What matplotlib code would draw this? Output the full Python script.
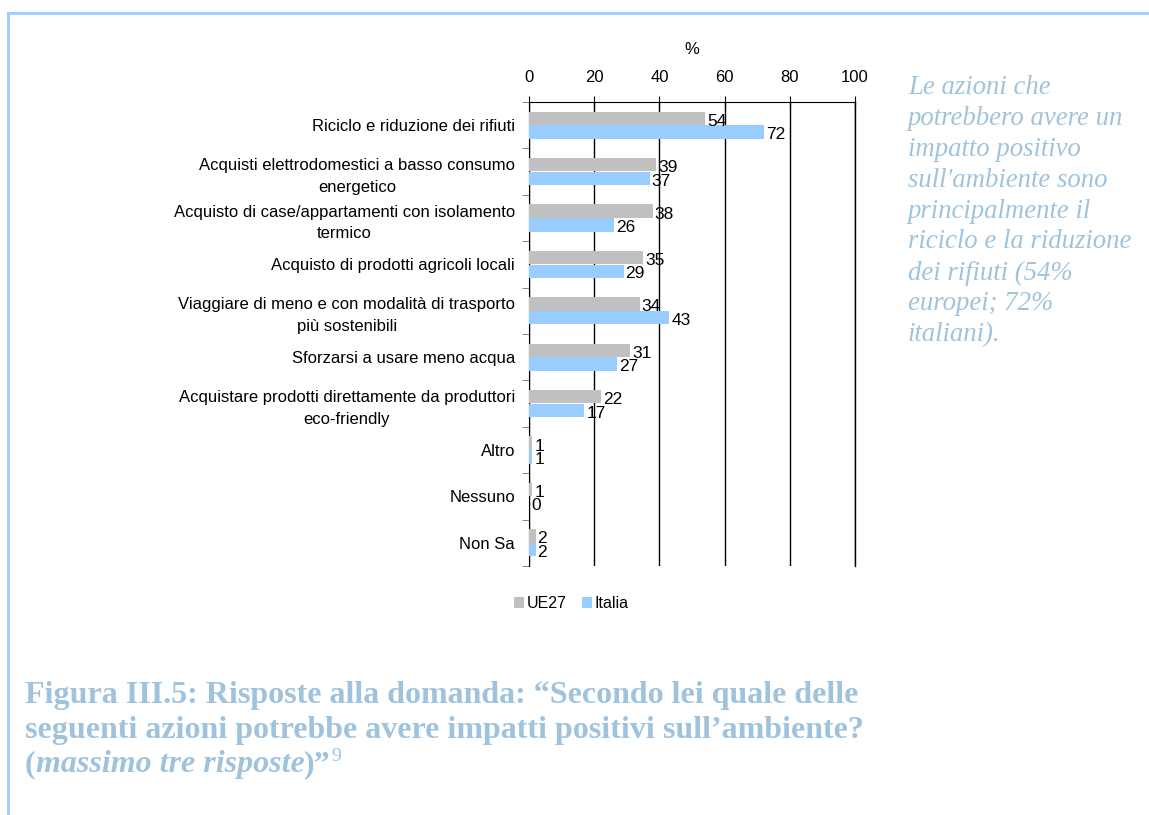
import matplotlib.pyplot as plt
import numpy as np
from matplotlib.lines import Line2D

plt.rcParams['font.family'] = ['Liberation Sans', 'DejaVu Sans']

# Data
categories = [
    "Riciclo e riduzione dei rifiuti",
    "Acquisti elettrodomestici a basso consumo\nenergetico",
    "Acquisto di case/appartamenti con isolamento\ntermico",
    "Acquisto di prodotti agricoli locali",
    "Viaggiare di meno e con modalità di trasporto\npiù sostenibili",
    "Sforzarsi a usare meno acqua",
    "Acquistare prodotti direttamente da produttori\neco-friendly",
    "Altro",
    "Nessuno",
    "Non Sa",
]
ue27 = [54, 39, 38, 35, 34, 31, 22, 1, 1, 2]
italia = [72, 37, 26, 29, 43, 27, 17, 1, 0, 2]
ticks = [0, 20, 40, 60, 80, 100]

grey = "#c0c0c0"
blue = "#99ccff"
caption_col = "#9fc3dd"

fig = plt.figure(figsize=(11.49, 8.15), dpi=100)

# frame of the page box
fig.add_artist(Line2D([8 / 1149, 1.0], [1 - 13 / 815] * 2, color=blue, lw=2))
fig.add_artist(Line2D([8 / 1149] * 2, [0, 1 - 13 / 815], color=blue, lw=2))

ax = fig.add_axes([529 / 1149, 1 - 566 / 815, 326 / 1149, 464 / 815])

y = np.arange(len(categories))
h = 0.29
ax.barh(y - h / 2 - 0.005, ue27, h, color=grey, label="UE27", zorder=3)
ax.barh(y + h / 2 + 0.005, italia, h, color=blue, label="Italia", zorder=3)

for i in range(len(categories)):
    ax.text(ue27[i] + 0.6, y[i] - h / 2 + 0.06, str(ue27[i]), va="center",
            ha="left", fontsize=12.5, zorder=4)
    ax.text(italia[i] + 0.6, y[i] + h / 2 + 0.06, str(italia[i]), va="center",
            ha="left", fontsize=12.5, zorder=4)

ax.set_xlim(0, 100)
ax.set_ylim(len(categories) - 0.5, -0.5)
ax.set_xticks(ticks)
ax.xaxis.tick_top()
ax.tick_params(axis="x", direction="inout", length=8, labelsize=12, pad=8)
ax.set_xlabel("%", fontsize=12, labelpad=12)
ax.xaxis.set_label_position("top")
ax.grid(axis="x", color="black", lw=1, zorder=1)
ax.axvline(100, color="black", lw=1, zorder=1, clip_on=False)

ax.set_yticks(y)
ax.set_yticklabels(categories, fontsize=12, multialignment="center", linespacing=1.55)
ax.set_yticks(np.arange(len(categories) + 1) - 0.5, minor=True)
ax.tick_params(axis="y", which="major", length=0, pad=10)
ax.tick_params(axis="y", which="minor", length=5, color="#707070")

for s in ["right", "bottom"]:
    ax.spines[s].set_visible(False)

ax.legend(loc="upper center", bbox_to_anchor=(0.13, -0.034), ncol=2, frameon=False,
          fontsize=11.5, handlelength=0.6, handleheight=0.6, handletextpad=0.15,
          columnspacing=1.0)

# side comment
fig.text(908 / 1149, 1 - 75 / 815,
         "Le azioni che\npotrebbero avere un\nimpatto positivo\nsull'ambiente sono\n"
         "principalmente il\nriciclo e la riduzione\ndei rifiuti (54%\neuropei; 72%\nitaliani).",
         family="Liberation Serif", style="italic", fontsize=19.3, color=caption_col,
         va="top", ha="left", linespacing=1.31)

# caption
cap_kw = dict(family="Liberation Serif", weight="bold", fontsize=23, color=caption_col,
              va="baseline", ha="left")
fig.text(25 / 1149, 1 - 703 / 815,
         "Figura III.5: Risposte alla domanda: \u201cSecondo lei quale delle", **cap_kw)
fig.text(25 / 1149, 1 - 738 / 815,
         "seguenti azioni potrebbe avere impatti positivi sull\u2019ambiente?", **cap_kw)

renderer = fig.canvas.get_renderer()
x0 = 25
parts = [("(", "normal"), ("massimo tre risposte", "italic"), (")\u201d", "normal")]
for txt, st in parts:
    t = fig.text(x0 / 1149, 1 - 772 / 815, txt, style=st, **cap_kw)
    bb = t.get_window_extent(renderer)
    x0 += bb.width
fig.text(x0 / 1149, 1 - 761 / 815, "9", **{**cap_kw, "fontsize": 14, "weight": "normal"})

fig.savefig("out.png", dpi=100)
